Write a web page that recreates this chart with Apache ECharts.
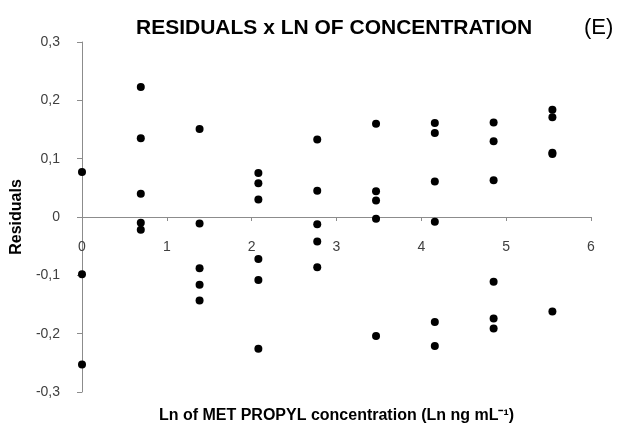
<!DOCTYPE html>
<html>
<head>
<meta charset="utf-8">
<script src="https://cdn.jsdelivr.net/npm/echarts@6/dist/echarts.min.js"></script>
<style>
  html, body { margin: 0; padding: 0; background: #fff; }
  #chart { width: 625px; height: 430px; }
</style>
</head>
<body>
<div id="chart"></div>
<script>
// Ln of concentration levels (x positions of each replicate group)
const lnLevels = [0, 0.693, 1.386, 2.079, 2.773, 3.466, 4.159, 4.852, 5.545];

// Residuals measured at each level
const residuals0 = [0.077, -0.098, -0.253];
const residuals1 = [0.223, 0.135, 0.040, -0.010, -0.022];
const residuals2 = [0.151, -0.011, -0.088, -0.116, -0.143];
const residuals3 = [0.0755, 0.058, 0.030, -0.072, -0.108, -0.226];
const residuals4 = [0.133, 0.045, -0.0125, -0.042, -0.086];
const residuals5 = [0.160, 0.044, 0.0285, -0.003, -0.204];
const residuals6 = [0.161, 0.144, 0.061, -0.008, -0.180, -0.221];
const residuals7 = [0.162, 0.130, 0.063, -0.111, -0.174, -0.191];
const residuals8 = [0.184, 0.171, 0.110, 0.108, -0.162];

const residualGroups = [residuals0, residuals1, residuals2, residuals3, residuals4,
                        residuals5, residuals6, residuals7, residuals8];

const xTicks = { min: 0, max: 6, step: 1 };
const yTicks = { min: -0.3, max: 0.3, step: 0.1 };

const points = [];
residualGroups.forEach((group, i) => {
  group.forEach(r => points.push([lnLevels[i], r]));
});

const decimalComma = v => {
  const r = Math.round(v * 10) / 10;
  return r === 0 ? '0' : r.toFixed(1).replace('.', ',');
};

// Plot area
const W = 625, H = 430;
const gridBox = { left: 82, right: 34, top: 42, bottom: 38 };
const plotHeight = H - gridBox.top - gridBox.bottom;
// Lift the x axis (line, ticks, labels) from the bottom edge up to residual = 0
const zeroLift = plotHeight * (0 - yTicks.min) / (yTicks.max - yTicks.min);

const font = '"Liberation Sans", Arial, sans-serif';
const chart = echarts.init(document.getElementById('chart'), null, { renderer: 'canvas' });

chart.setOption({
  animation: false,
  backgroundColor: '#ffffff',
  title: [
    {
      text: 'RESIDUALS x LN OF CONCENTRATION',
      left: 131, top: 13,
      textStyle: { fontFamily: font, fontSize: 21, fontWeight: 'bold', color: '#000' }
    },
    {
      text: '(E)',
      left: 579, top: 12,
      textStyle: { fontFamily: font, fontSize: 22, fontWeight: 'normal', color: '#000' }
    }
  ],
  grid: Object.assign({ containLabel: false, outerBoundsMode: 'none' }, gridBox),
  xAxis: {
    type: 'value',
    position: 'bottom',
    offset: -zeroLift,
    min: xTicks.min, max: xTicks.max, interval: xTicks.step,
    name: 'Ln of MET PROPYL concentration (Ln ng mL\u207B\u00B9)',
    nameLocation: 'middle',
    nameGap: 191,
    nameTextStyle: { fontFamily: font, fontSize: 16, fontWeight: 'bold', color: '#000' },
    axisLine: { onZero: false, lineStyle: { color: '#8c8c8c', width: 1 } },
    axisTick: { show: true, length: 4, lineStyle: { color: '#8c8c8c' } },
    axisLabel: { fontFamily: font, fontSize: 14, color: '#404040', margin: 23 },
    splitLine: { show: false }
  },
  yAxis: {
    type: 'value',
    min: yTicks.min, max: yTicks.max, interval: yTicks.step,
    name: 'Residuals',
    nameLocation: 'middle',
    nameRotate: 90,
    nameGap: 56,
    nameTextStyle: { fontFamily: font, fontSize: 16, fontWeight: 'bold', color: '#000' },
    axisLine: { show: true, onZero: false, lineStyle: { color: '#8c8c8c', width: 1 } },
    axisTick: { show: true, length: 5, lineStyle: { color: '#8c8c8c' } },
    axisLabel: { fontFamily: font, fontSize: 14, color: '#404040', margin: 22, formatter: decimalComma },
    splitLine: { show: false }
  },
  series: [{
    type: 'scatter',
    data: points,
    symbol: 'circle',
    symbolSize: 8,
    itemStyle: { color: '#000', opacity: 1 }
  }]
});
</script>
</body>
</html>
